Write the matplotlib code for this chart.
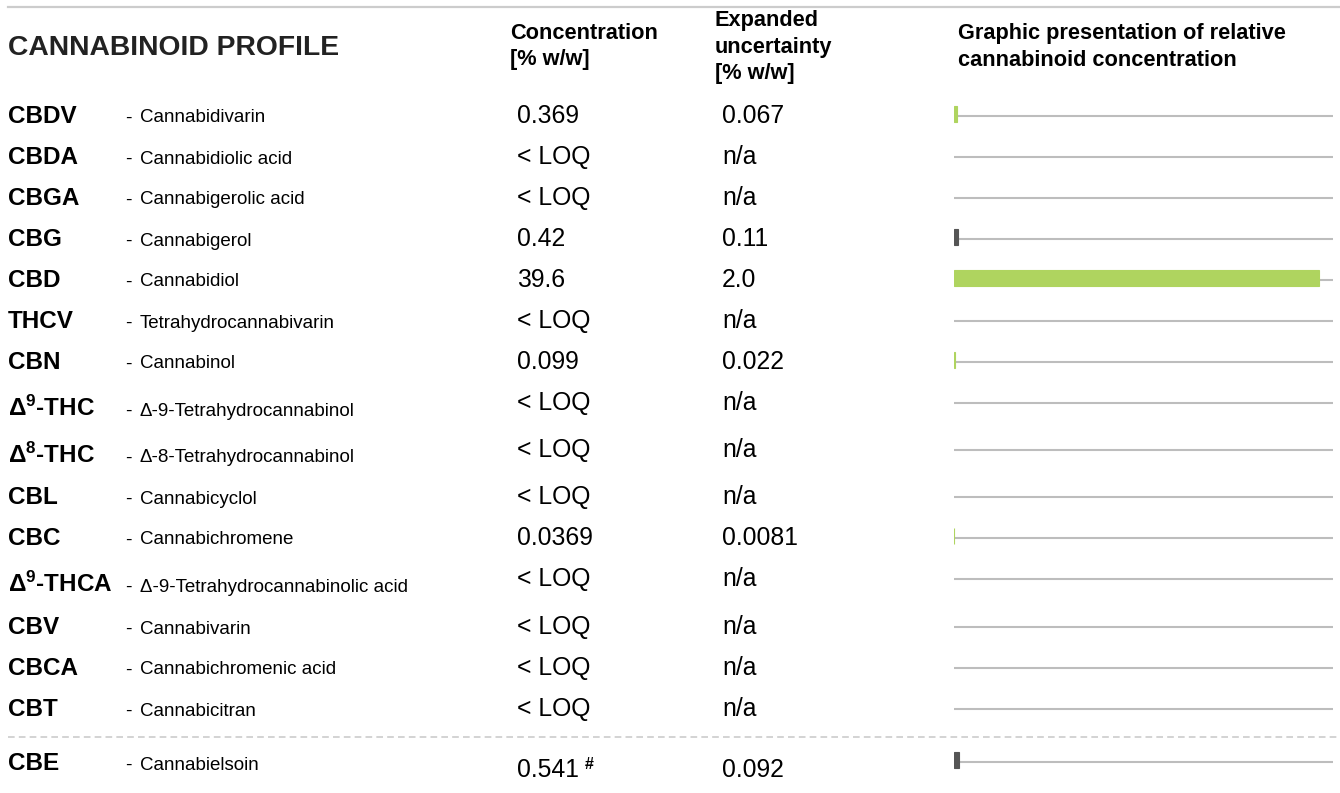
import matplotlib
matplotlib.use('Agg')
import matplotlib.pyplot as plt

plt.rcParams['font.family'] = ['Liberation Sans', 'DejaVu Sans']
plt.rcParams['mathtext.fontset'] = 'custom'
plt.rcParams['mathtext.rm'] = 'Liberation Sans'
plt.rcParams['mathtext.bf'] = 'Liberation Sans:bold'

## table content
abbrevs = ['CBDV', 'CBDA', 'CBGA', 'CBG', 'CBD', 'THCV', 'CBN',
           r'$\mathbf{\Delta^{9}}$-THC', r'$\mathbf{\Delta^{8}}$-THC', 'CBL', 'CBC',
           r'$\mathbf{\Delta^{9}}$-THCA', 'CBV', 'CBCA', 'CBT', 'CBE']
names = ['Cannabidivarin', 'Cannabidiolic acid', 'Cannabigerolic acid', 'Cannabigerol',
         'Cannabidiol', 'Tetrahydrocannabivarin', 'Cannabinol',
         'Δ-9-Tetrahydrocannabinol', 'Δ-8-Tetrahydrocannabinol', 'Cannabicyclol',
         'Cannabichromene', 'Δ-9-Tetrahydrocannabinolic acid', 'Cannabivarin',
         'Cannabichromenic acid', 'Cannabicitran', 'Cannabielsoin']
concentration = ['0.369', '< LOQ', '< LOQ', '0.42', '39.6', '< LOQ', '0.099', '< LOQ',
                 '< LOQ', '< LOQ', '0.0369', '< LOQ', '< LOQ', '< LOQ', '< LOQ', '0.541']
uncertainty = ['0.067', 'n/a', 'n/a', '0.11', '2.0', 'n/a', '0.022', 'n/a',
               'n/a', 'n/a', '0.0081', 'n/a', 'n/a', 'n/a', 'n/a', '0.092']
bar_group = ['a', '', '', 'b', 'a', '', 'a', '', '', '', 'a', '', '', '', '', 'b']

## column headers, one entry per line
head_conc = ['Concentration', '[% w/w]']
head_unc = ['Expanded', 'uncertainty', '[% w/w]']
head_graph = ['Graphic presentation of relative', 'cannabinoid concentration']

## layout (pixel rows of the grey lines)
line_y = [116, 157, 198, 239, 280, 321, 362, 403, 450, 497, 538, 579, 627, 668, 709, 762]
green = '#afd45f'
dark = '#555555'
grey = '#bdbdbd'

def to_num(s):
    try:
        return float(s)
    except ValueError:
        return 0.0

bar_vals = [to_num(c) for c in concentration]

fig = plt.figure(figsize=(13.4, 7.93), dpi=100)
ax = fig.add_axes([0, 0, 1, 1])
ax.set_xlim(0, 1340)
ax.set_ylim(793, 0)
ax.axis('off')

## top rule and dashed separator
ax.plot([8, 1340], [7, 7], color='#cccccc', lw=1.6)
ax.plot([8, 1340], [737, 737], color='#cccccc', lw=1.2, dashes=(4, 2.5))

## headers
ax.text(8, 55, 'CANNABINOID PROFILE', fontsize=20.3, fontweight='bold', color='#222222', va='baseline')
for k, s in enumerate(head_conc):
    ax.text(510, 39 + 26.5 * k, s, fontsize=15.7, fontweight='bold', va='baseline')
for k, s in enumerate(head_unc):
    ax.text(715, 26 + 26.5 * k, s, fontsize=15.7, fontweight='bold', va='baseline')
for k, s in enumerate(head_graph):
    ax.text(958, 39 + 26.5 * k, s, fontsize=15.7, fontweight='bold', va='baseline')

## rows
for i in range(len(abbrevs)):
    y = line_y[i]
    if '\\Delta' in abbrevs[i]:
        name_off, val_off = 13, 7
    elif abbrevs[i] == 'CBE':
        name_off, val_off = 8, 15
    else:
        name_off, val_off = 7, 7
    ax.text(8, y + name_off, abbrevs[i], fontsize=17.5, fontweight='bold', va='baseline')
    ax.text(125, y + name_off - 0.5, '-', fontsize=14, va='baseline')
    ax.text(140, y + name_off - 0.5, names[i], fontsize=13.5, va='baseline')
    ax.text(517, y + val_off, concentration[i], fontsize=17.8, va='baseline')
    ax.text(722, y + val_off, uncertainty[i], fontsize=17.8, va='baseline')
    if abbrevs[i] == 'CBE':
        ax.text(585, y + val_off - 8, '#', fontsize=11.5, fontweight='bold', va='baseline')

## bar graphic
bar_ax = fig.add_axes([954 / 1340, 0, (1333 - 954) / 1340, 1])
bar_ax.set_xlim(0, 41.1)
bar_ax.set_ylim(793, 0)
bar_ax.axis('off')
bar_ax.hlines(line_y, 0, 41.1, color=grey, lw=1.5, zorder=1)
for i in range(len(bar_vals)):
    if bar_group[i] == '':
        continue
    c = green if bar_group[i] == 'a' else dark
    bar_ax.barh(line_y[i] - 2.5, bar_vals[i], height=16, left=0, color=c,
                edgecolor=c, linewidth=0.8, zorder=2)

fig.savefig('out.png', dpi=100)
